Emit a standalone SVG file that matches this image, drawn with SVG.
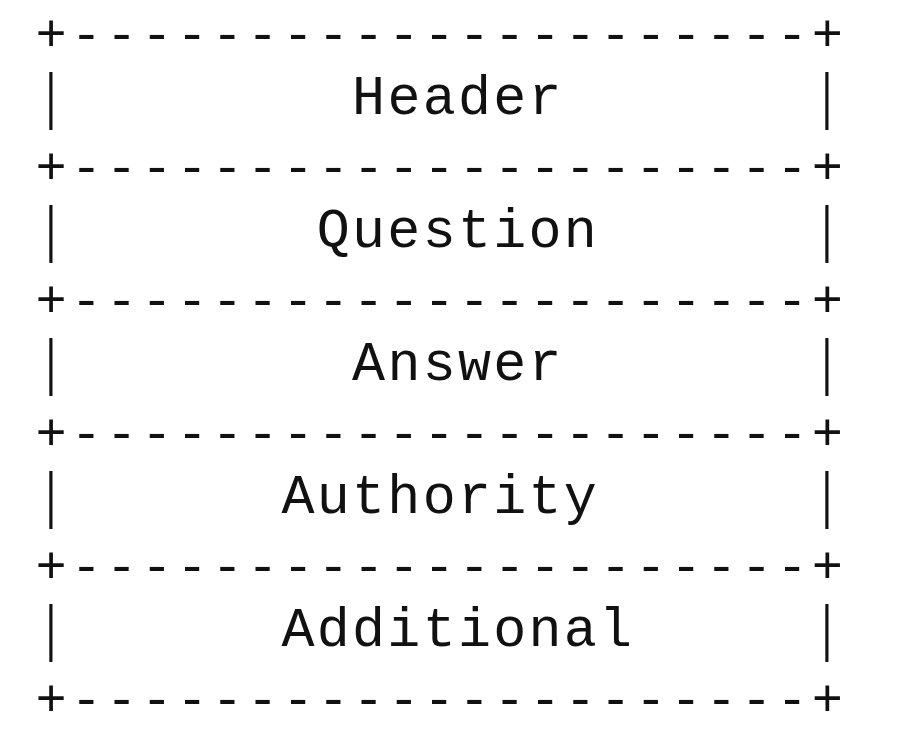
<svg xmlns="http://www.w3.org/2000/svg" width="916" height="752" viewBox="0 0 916 752">
  <style>
    .rule { font-family: "Liberation Mono", "DejaVu Sans Mono", monospace; font-size: 52px; letter-spacing: 4.08px; fill: #111; white-space: pre; }
    .bar { font-family: "Liberation Serif", "Liberation Mono", serif; font-size: 64px; fill: #111; text-anchor: middle; }
    .label { font-family: "Liberation Mono", "DejaVu Sans Mono", monospace; font-size: 55px; letter-spacing: 2.28px; fill: #111; white-space: pre; }
  </style>
  <rect width="916" height="752" fill="#ffffff"/>
  <!-- separator rules between the message sections (23 columns, 35.28px pitch) -->
  <g id="rules">
    <text class="rule" x="35.4" y="50.6">+---------------------+</text>
    <text class="rule" x="35.4" y="183.6">+---------------------+</text>
    <text class="rule" x="35.4" y="316.6">+---------------------+</text>
    <text class="rule" x="35.4" y="449.6">+---------------------+</text>
    <text class="rule" x="35.4" y="582.6">+---------------------+</text>
    <text class="rule" x="35.4" y="715.6">+---------------------+</text>
  </g>
  <g id="header">
    <text class="bar" x="51" y="116">|</text>
    <text class="label" x="352.1" y="113.5">Header</text>
    <text class="bar" x="827" y="116">|</text>
  </g>
  <g id="question">
    <text class="bar" x="51" y="249">|</text>
    <text class="label" x="316.8" y="246.5">Question</text>
    <text class="bar" x="827" y="249">|</text>
  </g>
  <g id="answer">
    <text class="bar" x="51" y="382">|</text>
    <text class="label" x="352.1" y="379.5">Answer</text>
    <text class="bar" x="827" y="382">|</text>
  </g>
  <g id="authority">
    <text class="bar" x="51" y="515">|</text>
    <text class="label" x="281.5" y="512.5">Authority</text>
    <text class="bar" x="827" y="515">|</text>
  </g>
  <g id="additional">
    <text class="bar" x="51" y="648">|</text>
    <text class="label" x="281.5" y="645.5">Additional</text>
    <text class="bar" x="827" y="648">|</text>
  </g>
</svg>
